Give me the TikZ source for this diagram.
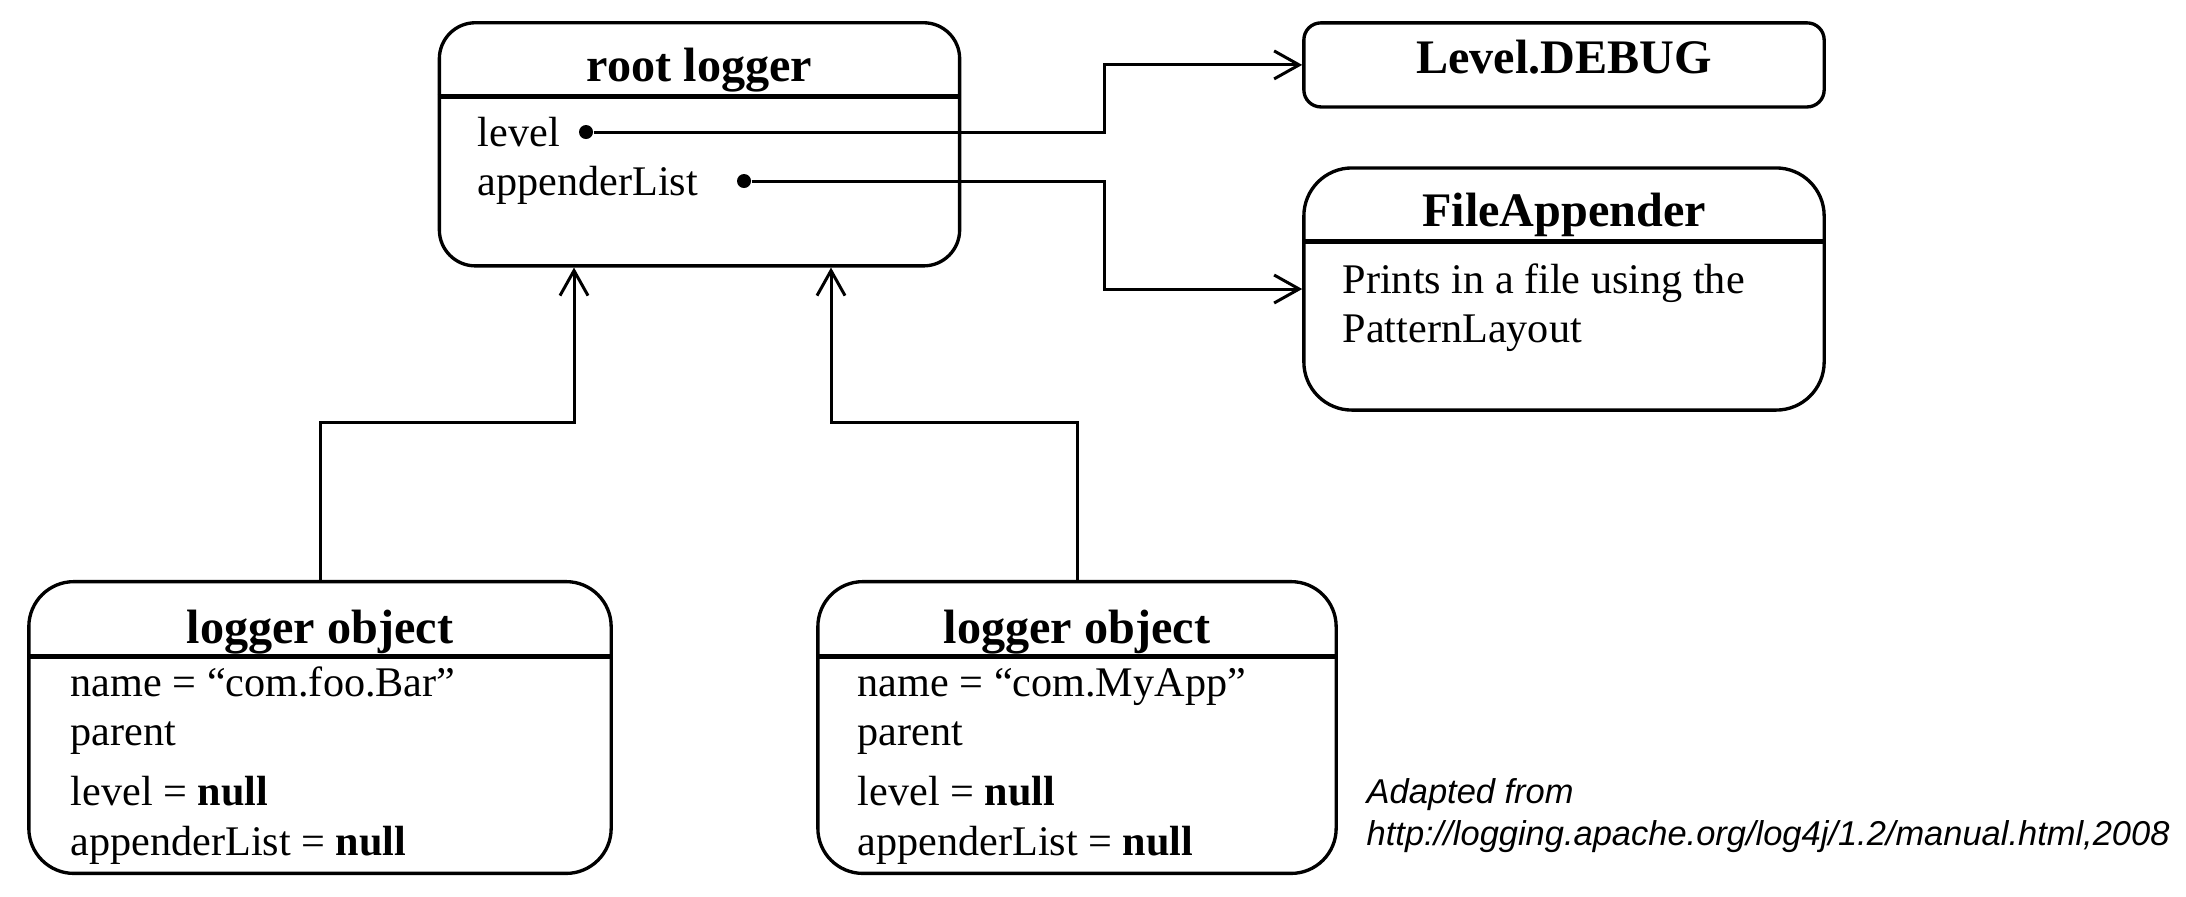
\documentclass[tikz,border=0pt]{standalone}
\usepackage{fontspec}
\setmainfont{Liberation Serif}
\newfontfamily\captfont{Liberation Sans}
\usetikzlibrary{arrows.meta}
\begin{document}
\begin{tikzpicture}[x=0.01cm, y=-0.01cm,
    objbox/.style={draw, line width=0.95pt},
    divider/.style={line width=1.4pt},
    title/.style={anchor=base, inner sep=0pt, font=\fontsize{13.7}{16}\selectfont\bfseries},
    field/.style={anchor=base west, inner sep=0pt, font=\fontsize{12}{14}\selectfont},
    capt/.style={anchor=base west, inner sep=0pt, font=\captfont\itshape\fontsize{9.8}{12}\selectfont},
    link/.style={line width=0.85pt, -{Straight Barb[length=0.25cm,width=0.28cm]}},
    refdot/.style={circle, fill, inner sep=0pt, minimum size=0.14cm}]
        \useasboundingbox (0,0) rectangle (2186,896);
        % Root logger
        \node[objbox, rounded corners=0.36cm, minimum width=5.20cm, minimum height=2.43cm] (root) at (699.5,144.3) {};
        \draw[divider] (root.west |- 0,96.7) -- (root.east |- 0,96.7);
        \node[title] (rootT) at (699.5,81.7) {root logger};
        \node[field] (rootLv) at (477,146.7) {level};
        \node[field] (rootAp) at (477,195) {appenderList};
        \node[refdot] (lvdot) at (586,132) {};
        \node[refdot] (apdot) at (744,181) {};
        % Level and appender
        \node[objbox, rounded corners=0.17cm, minimum width=5.20cm, minimum height=0.84cm] (debug) at (1564,64.9) {};
        \node[title] (debugT) at (1564,73.3) {Level.DEBUG};
        \node[objbox, rounded corners=0.48cm, minimum width=5.20cm, minimum height=2.42cm] (fileapp) at (1564,289) {};
        \draw[divider] (fileapp.west |- 0,241.7) -- (fileapp.east |- 0,241.7);
        \node[title] (fileappT) at (1564,226.7) {FileAppender};
        \node[field] (fileappA) at (1342,293) {Prints in a file using the};
        \node[field] (fileappB) at (1342,342) {PatternLayout};
        % Logger objects
        \node[objbox, rounded corners=0.45cm, minimum width=5.82cm, minimum height=2.916cm] (lobjA) at (320,727.5) {};
        \draw[divider] (lobjA.west |- 0,656.7) -- (lobjA.east |- 0,656.7);
        \node[title] (lobjAT) at (320,643.3) {logger object};
        \node[field] (lobjAn) at (70,696) {name = ``com.foo.Bar''};
        \node[field] (lobjAp) at (70,745) {parent};
        \node[field] (lobjAl) at (70,805) {level = \textbf{null}};
        \node[field] (lobjAa) at (70,855) {appenderList = \textbf{null}};
        \node[objbox, rounded corners=0.45cm, minimum width=5.18cm, minimum height=2.916cm] (lobjB) at (1077,727.5) {};
        \draw[divider] (lobjB.west |- 0,656.7) -- (lobjB.east |- 0,656.7);
        \node[title] (lobjBT) at (1077,643.3) {logger object};
        \node[field] (lobjBn) at (857,696) {name = ``com.MyApp''};
        \node[field] (lobjBp) at (857,745) {parent};
        \node[field] (lobjBl) at (857,805) {level = \textbf{null}};
        \node[field] (lobjBa) at (857,855) {appenderList = \textbf{null}};
        % Source note
        \node[capt] (capA) at (1366,803) {Adapted from};
        \node[capt] (capB) at (1366,845) {http://logging.apache.org/log4j/1.2/manual.html,2008};
        %
        % References from the root logger
        \coordinate (jogLv) at (1104,100);
        \coordinate (jogAp) at (1104,240);
        \draw[link] (lvdot) -| (jogLv) |- (debug.west);
        \draw[link] (apdot) -| (jogAp) |- (fileapp.west);
        % Parent edges
        \coordinate (inA) at (root.south -| 574,0);
        \coordinate (inB) at (root.south -| 831,0);
        \coordinate (jogA) at (450,422);
        \coordinate (jogB) at (950,422);
        \draw[link] (lobjA.north) |- (jogA) -| (inA);
        \draw[link] (lobjB.north) |- (jogB) -| (inB);
\end{tikzpicture}
\end{document}
